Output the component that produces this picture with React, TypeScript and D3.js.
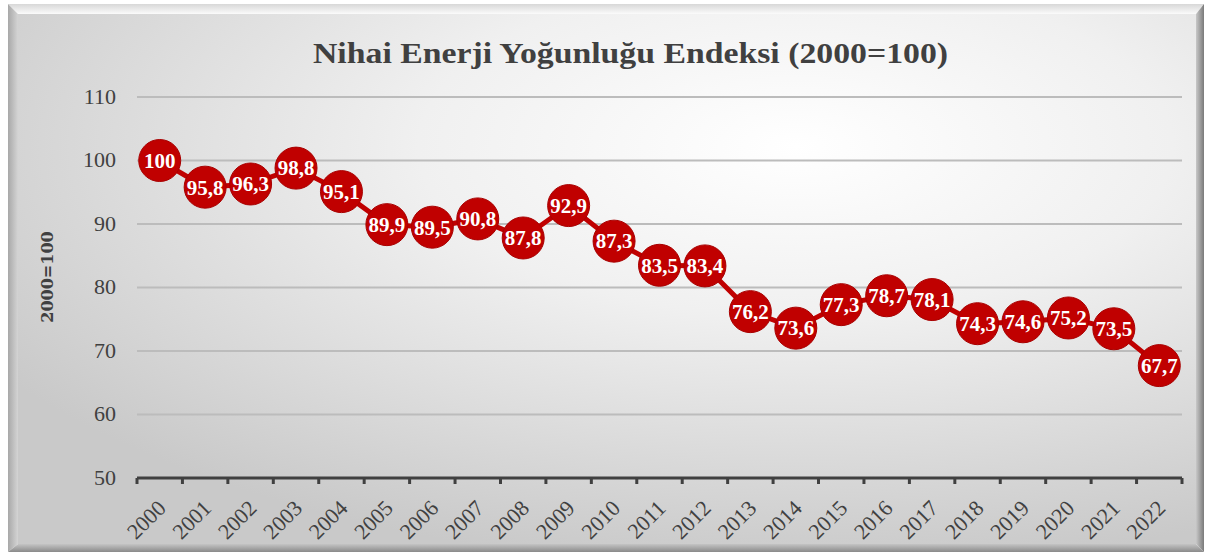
import * as d3 from "d3";

const years = ["2000", "2001", "2002", "2003", "2004", "2005", "2006", "2007", "2008", "2009", "2010", "2011", "2012", "2013", "2014", "2015", "2016", "2017", "2018", "2019", "2020", "2021", "2022"];
const values = [100, 95.8, 96.3, 98.8, 95.1, 89.9, 89.5, 90.8, 87.8, 92.9, 87.3, 83.5, 83.4, 76.2, 73.6, 77.3, 78.7, 78.1, 74.3, 74.6, 75.2, 73.5, 67.7];
const yTicks = [50, 60, 70, 80, 90, 100, 110];

const W = 1210;
const H = 554;
const serif = "'Palatino Linotype', 'Book Antiqua', 'Liberation Serif', 'DejaVu Serif', serif";

export default function App() {
  const x = d3.scaleBand<string>().domain(years).range([137, 1182]);
  const y = d3.scaleLinear().domain([50, 110]).range([478, 97]);

  const line = d3
    .line<number>()
    .x((_, i) => (x(years[i]) || 0) + x.bandwidth() / 2)
    .y((d) => y(d));

  const fmt = (v: number) => (Number.isInteger(v) ? String(v) : v.toFixed(1).replace(".", ","));

  return (
    <svg width={W} height={H} style={{ position: "absolute", left: 0, top: 0, display: "block" }}>
      <defs>
        <radialGradient id="bg" cx="0.66" cy="0.25" r="0.8">
          <stop offset="0" stopColor="#ffffff" />
          <stop offset="0.4" stopColor="#f0f0f0" />
          <stop offset="1" stopColor="#c9c9c9" />
        </radialGradient>
        <linearGradient id="bevTop" x1="0" y1="0" x2="0" y2="1">
          <stop offset="0" stopColor="#d8d8d8" />
          <stop offset="1" stopColor="#fbfbfb" />
        </linearGradient>
        <linearGradient id="bevRight" x1="0" y1="0" x2="1" y2="0">
          <stop offset="0" stopColor="#c8c8c8" />
          <stop offset="1" stopColor="#7a7a7a" />
        </linearGradient>
        <linearGradient id="bevLeft" x1="0" y1="0" x2="1" y2="0">
          <stop offset="0" stopColor="#a8a8a8" />
          <stop offset="1" stopColor="#d4d4d4" />
        </linearGradient>
        <linearGradient id="bevBot" x1="0" y1="0" x2="0" y2="1">
          <stop offset="0" stopColor="#c4c4c4" />
          <stop offset="1" stopColor="#8a8a8a" />
        </linearGradient>
      </defs>
      <rect x={0} y={0} width={W} height={H} fill="#ffffff" />
      {/* bevelled frame */}
      <polygon points="8,4 1204,4 1196,14 18,14" fill="url(#bevTop)" />
      <polygon points="1204,4 1204,552 1196,544 1196,14" fill="url(#bevRight)" />
      <polygon points="8,4 18,14 18,544 8,552" fill="url(#bevLeft)" />
      <polygon points="8,552 18,544 1196,544 1204,552" fill="url(#bevBot)" />
      <rect x={18} y={14} width={1178} height={530} fill="url(#bg)" />

      <text
        x={313}
        y={63}
        textLength={635}
        lengthAdjust="spacingAndGlyphs"
        fontFamily={serif}
        fontWeight="bold"
        fontSize={29}
        fill="#404040"
      >
        Nihai Enerji Yoğunluğu Endeksi (2000=100)
      </text>

      {yTicks.map((t) => (
        <g key={t}>
          {t > 50 && <line x1={137} x2={1182} y1={y(t)} y2={y(t)} stroke="#bcbcbc" strokeWidth={2} />}
          <text x={116} y={y(t) - 1} dy="0.35em" textAnchor="end" fontFamily={serif} fontSize={22} fill="#404040">
            {t}
          </text>
        </g>
      ))}

      <text
        transform={`translate(47,277) rotate(-90)`}
        textAnchor="middle"
        dy="0.35em"
        fontFamily="'DejaVu Serif', serif"
        fontWeight="bold"
        fontSize={16}
        fill="#404040"
      >
        2000=100
      </text>

      {/* x axis */}
      <line x1={137} x2={1182} y1={478} y2={478} stroke="#404040" strokeWidth={3} />
      {[...years, "end"].map((yr, i) => {
        const tx = 137 + i * x.step();
        return <line key={yr} x1={tx} x2={tx} y1={478} y2={484} stroke="#404040" strokeWidth={3} />;
      })}
      {years.map((yr) => {
        const cx = (x(yr) || 0) + x.bandwidth() / 2;
        return (
          <text
            key={yr}
            transform={`translate(${cx + 2},${504}) rotate(-45)`}
            textAnchor="end"
            dy="0.35em"
            fontFamily={serif}
            fontSize={22}
            fill="#404040"
          >
            {yr}
          </text>
        );
      })}

      <path d={line(values) || ""} fill="none" stroke="#c00000" strokeWidth={5} />
      {values.map((v, i) => {
        const cx = (x(years[i]) || 0) + x.bandwidth() / 2;
        return (
          <g key={i}>
            <circle cx={cx} cy={y(v)} r={21} fill="#c00000" stroke="#a80000" strokeWidth={1} />
            <text x={cx} y={y(v)} dy="0.35em" textAnchor="middle" fontFamily={serif} fontWeight="bold" fontSize={21} fill="#ffffff">
              {fmt(v)}
            </text>
          </g>
        );
      })}
    </svg>
  );
}
